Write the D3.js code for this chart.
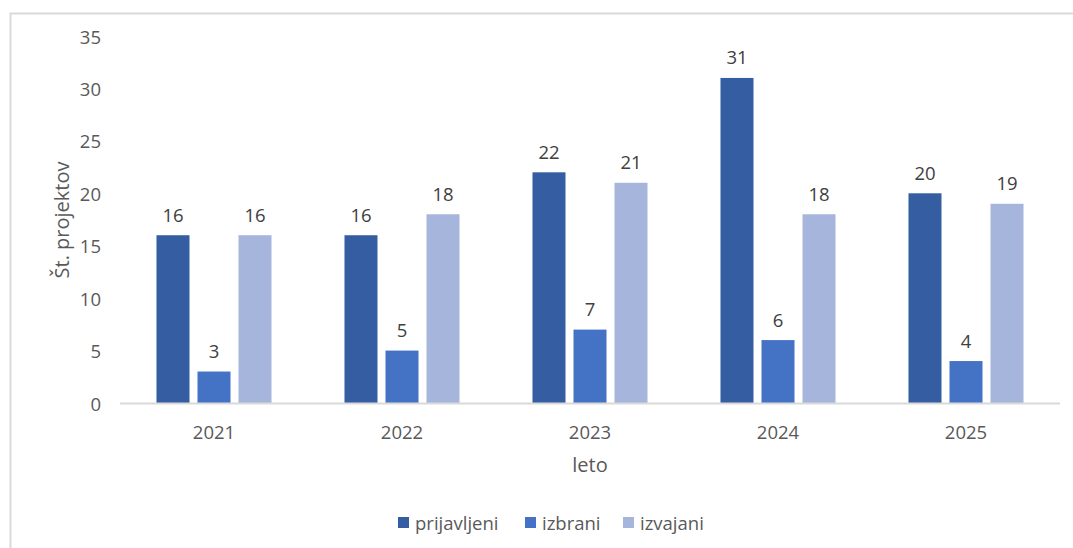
<!DOCTYPE html>
<html>
<head>
<meta charset="utf-8">
<script src="https://cdn.jsdelivr.net/npm/d3@7"></script>
<style>
  body { margin: 0; background: #fff; }
  text { font-family: "Open Sans", "Noto Sans", sans-serif; }
</style>
</head>
<body>
<div id="chart"></div>
<script>
// data
const years = ["2021", "2022", "2023", "2024", "2025"];
const seriesNames = ["prijavljeni", "izbrani", "izvajani"];
const prijavljeni = [16, 16, 22, 31, 20];
const izbrani = [3, 5, 7, 6, 4];
const izvajani = [16, 18, 21, 18, 19];
const yTicks = [0, 5, 10, 15, 20, 25, 30, 35];
const colors = ["#345ea1", "#4472c4", "#a6b5db"];

const width = 1073;
const height = 548;

// plot area
const plotLeft = 120, plotRight = 1060;
const plotTop = 36, plotBottom = 403;

const fontSize = 18.5;

const svg = d3.select("#chart")
    .append("svg")
    .attr("width", width)
    .attr("height", height);

// outer chart border
svg.append("path")
    .attr("d", `M10.5,${height} L10.5,13.5 L${width},13.5`)
    .attr("fill", "none")
    .attr("stroke", "#d9d9d9")
    .attr("stroke-width", 2);

const x0 = d3.scaleBand()
    .domain(years)
    .range([plotLeft, plotRight]);

const x1 = d3.scaleBand()
    .domain(seriesNames)
    .range([0, x0.bandwidth()])
    .paddingInner(0.195)
    .paddingOuter(0.89);

const y = d3.scaleLinear()
    .domain([0, 35])
    .range([plotBottom, plotTop]);

// y tick labels
svg.append("g")
    .selectAll("text")
    .data(yTicks)
    .enter()
    .append("text")
    .attr("x", 101)
    .attr("y", d => y(d))
    .attr("text-anchor", "end")
    .attr("dominant-baseline", "central")
    .attr("font-size", fontSize)
    .attr("fill", "#595959")
    .text(d => d);

// bars
const allSeries = [prijavljeni, izbrani, izvajani];
const rows = [];
years.forEach((yr, i) => {
    seriesNames.forEach((s, j) => {
        rows.push({ year: yr, series: s, value: allSeries[j][i], color: colors[j] });
    });
});

const bars = svg.append("g");
bars.selectAll("rect")
    .data(rows)
    .enter()
    .append("rect")
    .attr("x", d => x0(d.year) + x1(d.series))
    .attr("y", d => y(d.value))
    .attr("width", x1.bandwidth())
    .attr("height", d => y(0) - y(d.value))
    .attr("fill", d => d.color);

// data labels
bars.selectAll("text")
    .data(rows)
    .enter()
    .append("text")
    .attr("x", d => x0(d.year) + x1(d.series) + x1.bandwidth() / 2)
    .attr("y", d => y(d.value) - 21)
    .attr("text-anchor", "middle")
    .attr("dominant-baseline", "central")
    .attr("font-size", fontSize)
    .attr("fill", "#404040")
    .text(d => d.value);

// x axis line
svg.append("line")
    .attr("x1", plotLeft)
    .attr("x2", plotRight)
    .attr("y1", plotBottom + 0.5)
    .attr("y2", plotBottom + 0.5)
    .attr("stroke", "#d9d9d9")
    .attr("stroke-width", 2);

// x tick labels
svg.append("g")
    .selectAll("text")
    .data(years)
    .enter()
    .append("text")
    .attr("x", d => x0(d) + x0.bandwidth() / 2)
    .attr("y", 431)
    .attr("text-anchor", "middle")
    .attr("dominant-baseline", "central")
    .attr("font-size", fontSize)
    .attr("fill", "#595959")
    .text(d => d);

// axis titles
svg.append("text")
    .attr("x", (plotLeft + plotRight) / 2)
    .attr("y", 464)
    .attr("text-anchor", "middle")
    .attr("dominant-baseline", "central")
    .attr("font-size", 20)
    .attr("fill", "#595959")
    .text("leto");

svg.append("text")
    .attr("transform", `translate(61, 220) rotate(-90)`)
    .attr("text-anchor", "middle")
    .attr("dominant-baseline", "central")
    .attr("font-size", 20)
    .attr("fill", "#595959")
    .text("Št. projektov");

// legend
const legendX = [398, 525, 623];
const legend = svg.append("g");
seriesNames.forEach((s, i) => {
    legend.append("rect")
        .attr("x", legendX[i])
        .attr("y", 517)
        .attr("width", 11)
        .attr("height", 11)
        .attr("fill", colors[i]);
    legend.append("text")
        .attr("x", legendX[i] + 17)
        .attr("y", 522)
        .attr("dominant-baseline", "central")
        .attr("font-size", fontSize)
        .attr("fill", "#595959")
        .text(s);
});
</script>
</body>
</html>
